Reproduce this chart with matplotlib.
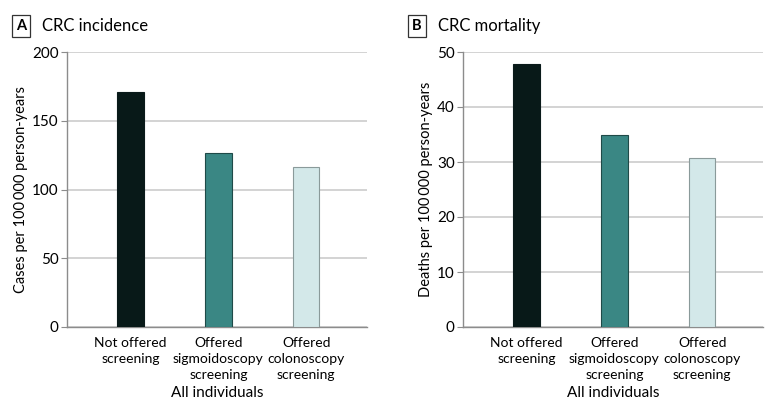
import matplotlib.pyplot as plt

plt.rcParams['font.family'] = ['Lato', 'DejaVu Sans']

categories = ['Not offered\nscreening', 'Offered\nsigmoidoscopy\nscreening', 'Offered\ncolonoscopy\nscreening']
incidence = [170.8, 126.4, 116.7]
mortality = [47.9, 34.9, 30.7]
colors = ['#081918', '#3a8784', '#d3e8e9']
edges = ['#0a1a1a', '#1f4a48', '#8a9a9a']

W, H = 780, 413
fig = plt.figure(figsize=(W / 100, H / 100), dpi=100)


def draw_panel(left, values, ymax, step, ylabel, letter, title):
    ax = fig.add_axes([left / W, (H - 327) / H, 300 / W, 275 / H])
    x = range(len(values))
    ax.bar(x, values, width=0.3, color=colors, edgecolor=edges, linewidth=0.8, zorder=3)
    ax.set_xlim(-0.72, 2.69)
    ax.set_ylim(0, ymax)
    ax.set_yticks(range(0, ymax + 1, step))
    ax.yaxis.grid(True, color='#c8c8c8', linewidth=1.1, zorder=0)
    ax.set_axisbelow(True)
    for s in ['top', 'right']:
        ax.spines[s].set_visible(False)
    for s in ['left', 'bottom']:
        ax.spines[s].set_color('#8c8c8c')
        ax.spines[s].set_linewidth(1.0)
    ax.tick_params(axis='y', length=4, color='#8c8c8c', labelsize=11, pad=2)
    ax.tick_params(axis='x', length=0, labelsize=10, pad=7)
    ax.set_xticks(list(x))
    for lbl in ax.set_xticklabels(categories):
        lbl.set_linespacing(1.4)
    ax.set_ylabel(ylabel, fontsize=10.5, labelpad=3)
    ax.set_xlabel('All individuals', fontsize=11, labelpad=4)
    # panel letter and title
    fig.text((left - 46) / W, (H - 26) / H, letter, fontsize=10.5, fontweight='bold',
             ha='center', va='center',
             bbox=dict(boxstyle='square,pad=0.3', facecolor='white', edgecolor='#333333', linewidth=0.9))
    fig.text((left - 25) / W, (H - 26) / H, title, fontsize=12, ha='left', va='center')
    return ax


draw_panel(67, incidence, 200, 50, 'Cases per 100\u2009000 person-years', 'A', 'CRC incidence')
draw_panel(463, mortality, 50, 10, 'Deaths per 100\u2009000 person-years', 'B', 'CRC mortality')

fig.savefig('out.png', dpi=100)
